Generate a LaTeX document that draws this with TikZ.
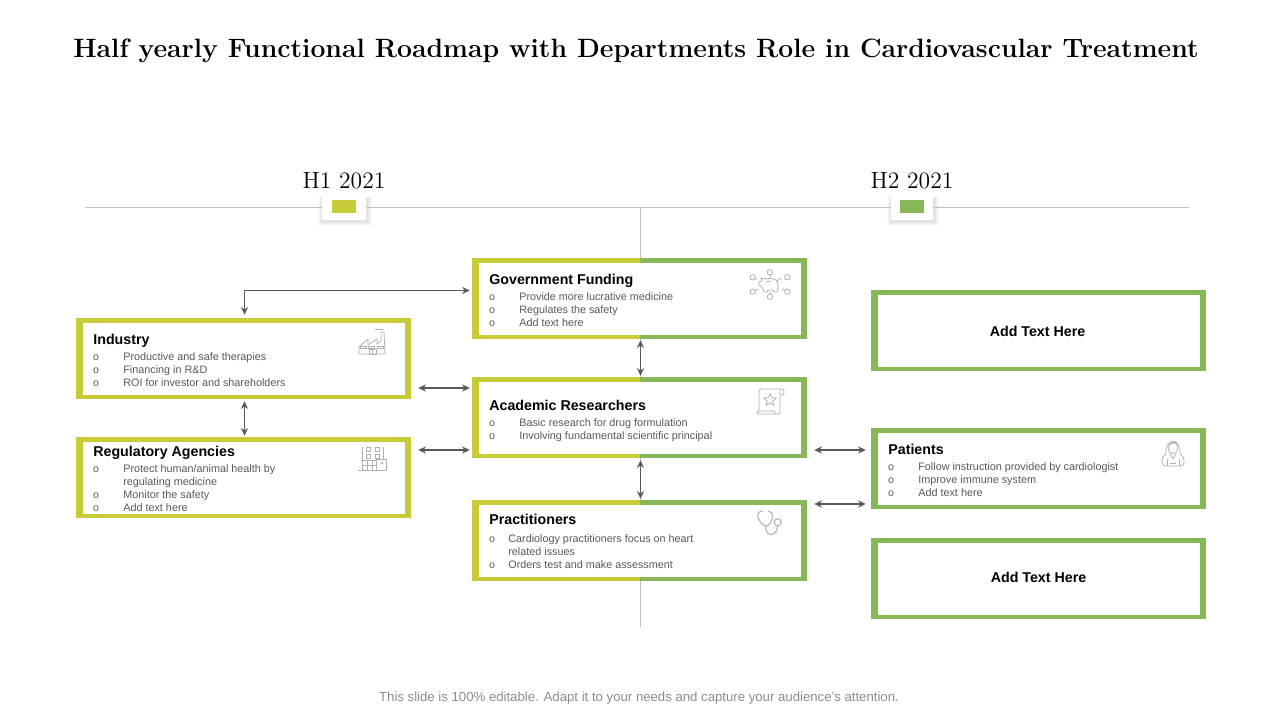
\documentclass[tikz,border=0pt]{standalone}
\usepackage{fontspec}
\setsansfont{Liberation Sans}
\usepackage{xcolor}
\usetikzlibrary{calc,arrows.meta,positioning,shapes.geometric}
\definecolor{cardlime}{HTML}{C6CB37}
\definecolor{cardgreen}{HTML}{88B758}
\definecolor{rulegray}{HTML}{BFBFBF}
\definecolor{linkgray}{HTML}{595959}
\definecolor{bodygray}{HTML}{595959}
\definecolor{icongray}{HTML}{B0B0B0}
\definecolor{footgray}{HTML}{8C8C8C}

\begin{document}
\begin{tikzpicture}[
  cardbase/.style={minimum width=6.7cm, minimum height=1.62cm, inner sep=0pt},
  marker/.style={fill=white, minimum height=0.5cm, inner sep=0pt},
  tag/.style={minimum width=0.48cm, minimum height=0.26cm, inner sep=0pt},
  period/.style={font=\fontsize{13.4}{15}\selectfont},
  cardtitle/.style={anchor=west, inner sep=0pt, yshift=-0.02cm, font=\sffamily\bfseries\fontsize{8.1}{9}\selectfont, text height=1.5ex, text depth=.4ex},
  item/.style={anchor=west, inner sep=0pt, text=bodygray, font=\sffamily\fontsize{6.15}{7}\selectfont, text height=1.5ex, text depth=.4ex},
  bul/.style={anchor=center, inner sep=0pt, yshift=-0.04cm, text=bodygray, font=\sffamily\fontsize{6}{7}\selectfont},
  link/.style={draw=linkgray, line width=0.6pt, {Stealth[length=4.2pt,width=4pt,inset=1.2pt]}-{Stealth[length=4.2pt,width=4pt,inset=1.2pt]}},
  rule/.style={draw=rulegray, line width=0.6pt},
  icon/.style={draw=icongray, line width=0.45pt}
]
  \useasboundingbox (0,0) rectangle (25.6,14.4);

  \node[font=\bfseries\fontsize{15.1}{18}\selectfont] (title) at (12.72, 13.38) {Half yearly Functional Roadmap with Departments Role in Cardiovascular Treatment};

  % Timeline
  \coordinate (railstart) at (1.70, 10.25);
  \coordinate (railend) at (23.78, 10.25);
  \coordinate (axistop) at (12.81, 10.25);
  \coordinate (axisend) at (12.81, 1.86);
  \coordinate (indaxis) at (4.89, 0);
  \draw[rule] (axistop) -- (axisend);

  % Soft shadows under the markers
  \foreach \mx/\mw in {6.88/0.44, 18.24/0.42} {
    \foreach \s in {0.10,0.08,0.06,0.04,0.02} {
      \fill[black, opacity=0.024] (\mx-\mw-\s+0.02, 10.25-0.25-\s-0.02) rectangle (\mx+\mw+\s+0.02, 10.25+0.2);
    }
  }
  \node[marker, minimum width=0.88cm] (mkone) at (6.88, 10.25) {};
  \node[marker, minimum width=0.84cm] (mktwo) at (18.24, 10.25) {};
  \draw[rule] (railstart) -- (mkone);
  \draw[rule] (mkone) -- (mktwo);
  \draw[rule] (mktwo) -- (railend);
  \node[tag, fill=cardlime] (tagone) at (6.88, 10.27) {};
  \node[tag, fill=cardgreen] (tagtwo) at (18.24, 10.27) {};
  \node[period, above=-0.02cm of mkone] (hone) {H1 2021};
  \node[period, above=-0.02cm of mktwo] (htwo) {H2 2021};

  % Cards
  \foreach \nm/\cx/\cy/\cola/\colb in {
    gov/12.79/8.43/cardlime/cardgreen,
    aca/12.79/6.05/cardlime/cardgreen,
    pra/12.79/3.59/cardlime/cardgreen,
    ind/4.87/7.23/cardlime/cardlime,
    reg/4.87/4.85/cardlime/cardlime,
    addone/20.77/7.79/cardgreen/cardgreen,
    pat/20.77/5.03/cardgreen/cardgreen,
    addtwo/20.77/2.83/cardgreen/cardgreen} {
    \node[cardbase, fill=\cola] (\nm) at (\cx, \cy) {};
    \fill[\colb] ($(\nm.north)+(0.01,0)$) rectangle (\nm.south east);
    \fill[white] ($(\nm.south west)+(0.14,0.08)$) rectangle ($(\nm.north east)+(-0.12,-0.10)$);
  }

  % Connectors
  \coordinate (rowtop) at (0, 8.59);
  \coordinate (rowa) at (0, 6.64);
  \coordinate (rowb) at (0, 5.40);
  \coordinate (rowc) at (0, 4.32);
  \draw[link, shorten <=0.02cm, shorten >=0.02cm] (axistop |- gov.south) -- (axistop |- aca.north);
  \draw[link, shorten <=0.04cm, shorten >=0.02cm] (axistop |- aca.south) -- (axistop |- pra.north);
  \draw[link, shorten <=0.04cm, shorten >=0.02cm] (indaxis |- ind.south) -- (indaxis |- reg.north);
  \draw[link, shorten <=0.06cm, shorten >=0.04cm] (indaxis |- ind.north) |- (gov.west |- rowtop);
  \draw[link, shorten <=0.14cm, shorten >=0.04cm] (ind.east |- rowa) -- (aca.west |- rowa);
  \draw[link, shorten <=0.14cm, shorten >=0.04cm] (reg.east |- rowb) -- (aca.west |- rowb);
  \draw[link, shorten <=0.14cm, shorten >=0.10cm] (aca.east |- rowb) -- (pat.west |- rowb);
  \draw[link, shorten <=0.14cm, shorten >=0.10cm] (pra.east |- rowc) -- (pat.west |- rowc);

  % Government Funding
  \node[cardtitle] (govtitle) at (9.78, 8.82) {Government Funding};
  \foreach \i/\yy/\txt in {1/8.48/{Provide more lucrative medicine}, 2/8.22/{Regulates the safety}, 3/7.96/{Add text here}} {
    \node[bul] (govb\i) at (9.84, \yy) {o};
    \node[item] (govt\i) at (10.38, \yy) {\txt};
  }

  % Academic Researchers
  \node[cardtitle] (acatitle) at (9.78, 6.30) {Academic Researchers};
  \foreach \i/\yy/\txt in {1/5.96/{Basic research for drug formulation}, 2/5.70/{Involving fundamental scientific principal}} {
    \node[bul] (acab\i) at (9.84, \yy) {o};
    \node[item] (acat\i) at (10.38, \yy) {\txt};
  }

  % Practitioners
  \node[cardtitle] (pratitle) at (9.78, 4.02) {Practitioners};
  \foreach \i/\yy/\txt in {1/3.64/{Cardiology practitioners focus on heart}, 3/3.12/{Orders test and make assessment}} {
    \node[bul] (prab\i) at (9.84, \yy) {o};
    \node[item] (prat\i) at (10.16, \yy) {\txt};
  }
  \node[item] (prat2) at (10.16, 3.38) {related issues};

  % Industry
  \node[cardtitle] (indtitle) at (1.86, 7.62) {Industry};
  \foreach \i/\yy/\txt in {1/7.28/{Productive and safe therapies}, 2/7.02/{Financing in R\&D}, 3/6.76/{ROI for investor and shareholders}} {
    \node[bul] (indb\i) at (1.92, \yy) {o};
    \node[item] (indt\i) at (2.46, \yy) {\txt};
  }

  % Regulatory Agencies
  \node[cardtitle] (regtitle) at (1.86, 5.38) {Regulatory Agencies};
  \foreach \i/\yy/\txt in {1/5.04/{Protect human/animal health by}, 3/4.52/{Monitor the safety}, 4/4.26/{Add text here}} {
    \node[bul] (regb\i) at (1.92, \yy) {o};
    \node[item] (regt\i) at (2.46, \yy) {\txt};
  }
  \node[item] (regt2) at (2.46, 4.78) {regulating medicine};

  % Patients
  \node[cardtitle] (pattitle) at (17.76, 5.42) {Patients};
  \foreach \i/\yy/\txt in {1/5.08/{Follow instruction provided by cardiologist}, 2/4.82/{Improve immune system}, 3/4.56/{Add text here}} {
    \node[bul] (patb\i) at (17.82, \yy) {o};
    \node[item] (patt\i) at (18.36, \yy) {\txt};
  }

  % Plain cards
  \node[cardtitle, anchor=center, yshift=-0.02cm, xshift=-0.02cm] (addonetext) at (addone) {Add Text Here};
  \node[cardtitle, anchor=center, yshift=0.02cm] (addtwotext) at (addtwo) {Add Text Here};

  % Factory
  \begin{scope}[x=0.02cm, y=0.02cm, shift={(7.18cm,7.32cm)}]
    \draw[icon] (0,0) -- (0,7) -- (9,15) -- (9,9) -- (18,15) -- (18,10) -- (22,13) -- (22,22) -- (25,22) -- (26,0) -- cycle;
    \draw[icon] (16,25) -- (25,25);
    \foreach \wx in {1,9,18} \draw[icon] (\wx,6) rectangle ++(6,1.5);
    \draw[icon] (10,0) rectangle (17,5);
    \draw[icon] (13.5,0) -- (13.5,5);
  \end{scope}

  % Piggy bank
  \begin{scope}[x=0.02cm, y=0.02cm, shift={(15.4cm,8.7cm)}]
    \draw[icon] (-11,0) -- (-11,3) -- (-8,4) -- (-9,7) -- (-4,6) .. controls (0,7) and (4,7) .. (7,4) -- (11,7);
    \draw[icon] (-11,0) -- (-8,-2) -- (-6,-7) -- (-3,-7) -- (-2,-5) -- (3,-5) -- (4,-7) -- (7,-7) .. controls (8,-3) and (9,0) .. (7,4);
    \draw[icon] (-4,3) -- (1,4);
    \foreach \px/\py in {-17.3/7.7,0/12.7,17.3/7.7,-17.3/-6.7,17.3/-6.7,0/-11.7} \draw[icon] (\px,\py) circle (2.7);
    \draw[icon] (0,10) -- (0,8);
    \draw[icon] (-14.8,6.5) -- (-13,5.5);
    \draw[icon] (-14.8,-5.5) -- (-12,-4);
    \draw[icon] (14.8,-5.5) -- (12,-4);
    \draw[icon] (0,-9) -- (0,-7);
  \end{scope}

  % Scroll
  \begin{scope}[x=0.02cm, y=0.02cm, shift={(15.14cm,6.12cm)}]
    \draw[icon, rounded corners=1pt] (2,3) -- (2,25) -- (27,25) -- (27,19) -- (23,19);
    \draw[icon, rounded corners=1pt] (23,25) -- (23,0) -- (0,0) -- (0,3) -- (18,3) -- (18,0);
    \node[icon, draw, star, star points=5, star point ratio=2.2, minimum size=0.26cm, inner sep=0pt] (scrollstar) at (13,14) {};
  \end{scope}

  % Building
  \begin{scope}[x=0.02cm, y=0.02cm, shift={(7.16cm,4.98cm)}]
    \draw[icon] (0,0.7) -- (29,0.7);
    \draw[icon] (4,0.7) -- (4,24);
    \draw[icon] (25,12) -- (25,24);
    \draw[icon] (3,11) -- (18,11);
    \draw[icon] (18,0.7) rectangle (28,12);
    \foreach \wx in {8,17} {
      \draw[icon] (\wx,19.3) rectangle ++(4,4.4);
      \draw[icon] (\wx,12.5) rectangle ++(4,4.2);
    }
    \draw[icon] (9,0.7) -- (9,11);
    \draw[icon] (14,0.7) -- (14,11);
    \draw[icon] (4,6) -- (18,6);
    \fill[icongray] (24,8) circle (1.3);
  \end{scope}

  % Stethoscope
  \begin{scope}[x=0.02cm, y=0.02cm, shift={(15.14cm,3.70cm)}]
    \draw[icon, line width=0.6pt] (6,24) .. controls (2,24) and (0,21) .. (1,18) .. controls (2,14) and (6,9) .. (9,9) .. controls (12,9) and (15,14) .. (15.7,18) .. controls (16,21) and (14,24) .. (11,24);
    \draw[icon, line width=0.6pt] (9,9) -- (9,5) .. controls (9,-1) and (20,-2) .. (20.7,9);
    \draw[icon, line width=0.6pt] (20.7,12.7) circle (3.5);
  \end{scope}

  % Patient
  \begin{scope}[x=0.02cm, y=0.02cm, shift={(23.24cm,5.08cm)}]
    \draw[icon] (4,12) .. controls (3,29) and (19,29) .. (18,12);
    \draw[icon] (11,18) ellipse (4.5 and 6);
    \draw[icon] (7,21) -- (14,24);
    \draw[icon, rounded corners=2pt] (4,12) -- (0,9) -- (0,0) -- (22,0) -- (22,9) -- (18,12);
    \draw[icon] (8,12) -- (11,7) -- (14,12);
    \draw[icon] (5,7) -- (5,0);
    \draw[icon] (17,7) -- (17,0);
    \draw[icon] (8,3) -- (14,3);
  \end{scope}

  \node[font=\sffamily\fontsize{7.5}{9}\selectfont, text=footgray] (footer) at (12.78, 0.44) {This slide is 100\% editable. Adapt it to your needs and capture your audience's attention.};

\end{tikzpicture}
\end{document}
